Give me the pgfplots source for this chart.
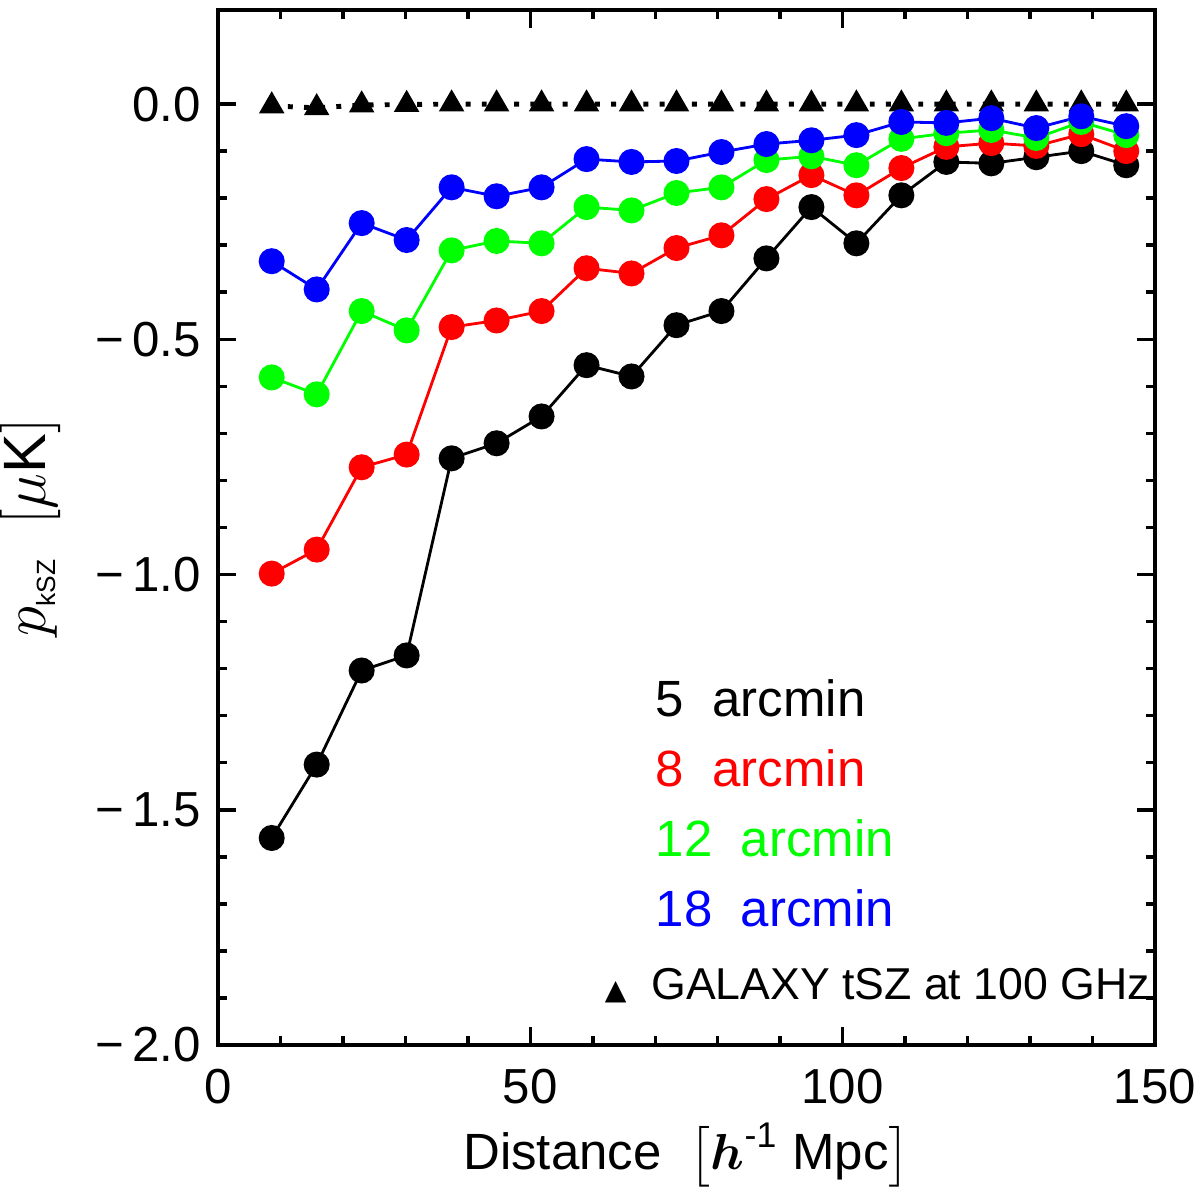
\documentclass[border=0pt]{standalone}
\usepackage{amsmath}
\usepackage{pgfplots}
\pgfplotsset{compat=1.18}
\usepackage{fontspec}
\setmainfont{Liberation Sans}
\newfontfamily\symfont{DejaVu Sans}
\definecolor{idlred}{RGB}{255,0,0}
\definecolor{idlgreen}{RGB}{0,255,0}
\definecolor{idlblue}{RGB}{0,0,255}

\begin{document}
\begin{tikzpicture}
\begin{axis}[
    scale only axis,
    width=9.37cm, height=10.35cm,
    xmin=0, xmax=150, ymin=-2.0, ymax=0.2,
    xtick={0,50,100,150},
    ytick={-2.0,-1.5,-1.0,-0.5,0.0},
    yticklabels={−\,2.0,−\,1.5,−\,1.0,−\,0.5,0.0},
    minor x tick num=4,
    minor y tick num=4,
    tick align=inside,
    major tick length=0.18cm,
    minor tick length=0.09cm,
    tick style={black, line width=1pt},
    axis line style={line width=1.1pt},
    /pgf/number format/assume math mode=true,
    ticklabel style={font=\fontsize{14}{16}\selectfont},
    xticklabel style={yshift=-0.12cm},
    yticklabel style={xshift=-0.05cm},
    xlabel={Distance \ $\left[\boldsymbol{h}^{\text{-1}}\ \text{Mpc}\right]$},
    ylabel={$p_{\text{\fontsize{7.5}{8}\selectfont kSZ}}$\ \ $\left[\mu\text{K}\right]$},
    xlabel style={font=\fontsize{14.5}{16}\selectfont},
    ylabel style={font=\fontsize{17}{19}\selectfont},
    ylabel shift=0.1cm,
    xlabel shift=-0.05cm,
    every axis plot/.append style={line width=0.8pt},
]
\addplot[black, dash pattern=on 1.4pt off 3.2pt, line width=1.4pt, mark=triangle*, mark size=2.8pt, mark options={solid}] coordinates {
(8.6,-0.004) (15.8,-0.008) (23.0,-0.002) (30.2,-0.001) (37.4,0.0) (44.6,0.0) (51.8,0.0) (59.0,0.0) (66.2,0.0) (73.4,0.0)
(80.6,0.0) (87.8,0.0) (95.0,0.0) (102.2,0.0) (109.4,0.0) (116.6,0.0) (123.8,0.0) (131.0,0.0) (138.2,0.0) (145.4,0.0)};
\addplot[black, mark=*, mark size=3.3pt] coordinates {
(8.6,-1.560) (15.8,-1.404) (23.0,-1.204) (30.2,-1.172) (37.4,-0.753) (44.6,-0.721) (51.8,-0.664) (59.0,-0.555) (66.2,-0.579) (73.4,-0.470)
(80.6,-0.440) (87.8,-0.328) (95.0,-0.219) (102.2,-0.296) (109.4,-0.194) (116.6,-0.123) (123.8,-0.126) (131.0,-0.113) (138.2,-0.100) (145.4,-0.130)};
\addplot[idlred, mark=*, mark size=3.3pt] coordinates {
(8.6,-0.998) (15.8,-0.947) (23.0,-0.772) (30.2,-0.745) (37.4,-0.474) (44.6,-0.460) (51.8,-0.440) (59.0,-0.349) (66.2,-0.360) (73.4,-0.306)
(80.6,-0.279) (87.8,-0.202) (95.0,-0.151) (102.2,-0.194) (109.4,-0.136) (116.6,-0.091) (123.8,-0.083) (131.0,-0.089) (138.2,-0.064) (145.4,-0.100)};
\addplot[idlgreen, mark=*, mark size=3.3pt] coordinates {
(8.6,-0.581) (15.8,-0.617) (23.0,-0.440) (30.2,-0.481) (37.4,-0.311) (44.6,-0.291) (51.8,-0.296) (59.0,-0.219) (66.2,-0.226) (73.4,-0.189)
(80.6,-0.177) (87.8,-0.119) (95.0,-0.111) (102.2,-0.130) (109.4,-0.074) (116.6,-0.062) (123.8,-0.055) (131.0,-0.072) (138.2,-0.038) (145.4,-0.066)};
\addplot[idlblue, mark=*, mark size=3.3pt] coordinates {
(8.6,-0.334) (15.8,-0.394) (23.0,-0.253) (30.2,-0.289) (37.4,-0.177) (44.6,-0.196) (51.8,-0.177) (59.0,-0.117) (66.2,-0.123) (73.4,-0.121)
(80.6,-0.102) (87.8,-0.085) (95.0,-0.077) (102.2,-0.066) (109.4,-0.038) (116.6,-0.040) (123.8,-0.030) (131.0,-0.051) (138.2,-0.026) (145.4,-0.047)};
\node[anchor=base west, black, font=\fontsize{14.5}{16}\selectfont, inner sep=0pt] at (axis cs:70.0,-1.302) {5\ \ arcmin};
\node[anchor=base west, idlred, font=\fontsize{14.5}{16}\selectfont, inner sep=0pt] at (axis cs:70.0,-1.451) {8\ \ arcmin};
\node[anchor=base west, idlgreen, font=\fontsize{14.5}{16}\selectfont, inner sep=0pt] at (axis cs:70.0,-1.600) {12\ \ arcmin};
\node[anchor=base west, idlblue, font=\fontsize{14.5}{16}\selectfont, inner sep=0pt] at (axis cs:70.0,-1.749) {18\ \ arcmin};
\node[anchor=base east, black, font=\fontsize{12.7}{15}\selectfont, inner sep=0pt] at (axis cs:149.3,-1.904) {{\symfont\fontsize{8}{10}\selectfont ▲}\ \ GALAXY\ tSZ\ at\ 100\ GHz};
\coordinate (ll) at (rel axis cs:0,0);
\coordinate (ur) at (rel axis cs:1,1);
\end{axis}
\pgfresetboundingbox
\path ([shift={(-2.18cm,-1.45cm)}]ll) rectangle ([shift={(0.45cm,0.1cm)}]ur);
\end{tikzpicture}
\end{document}
